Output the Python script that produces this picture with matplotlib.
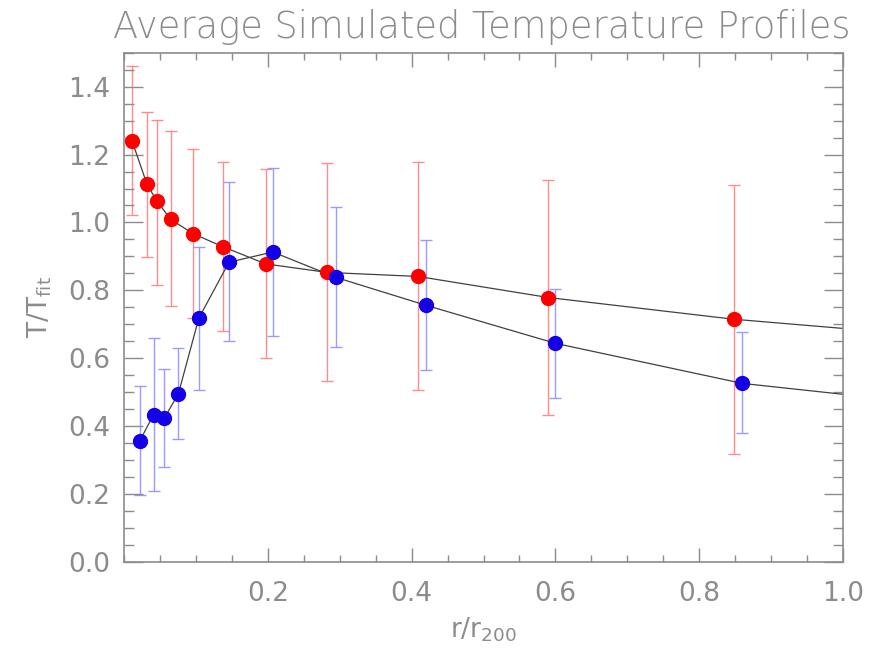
import matplotlib
matplotlib.use("Agg")
from matplotlib import pyplot as plt
from matplotlib.ticker import MultipleLocator

# red profile (points + error bar limits)
red_x = [0.011, 0.032, 0.046, 0.065, 0.096, 0.137, 0.197, 0.282, 0.409, 0.590, 0.848]
red_y = [1.241, 1.112, 1.062, 1.009, 0.967, 0.929, 0.878, 0.853, 0.841, 0.779, 0.715]
red_hi = [1.460, 1.325, 1.303, 1.269, 1.216, 1.177, 1.158, 1.176, 1.179, 1.126, 1.111]
red_lo = [1.021, 0.898, 0.815, 0.754, 0.718, 0.680, 0.601, 0.532, 0.506, 0.432, 0.318]

# blue profile
blue_x = [0.022, 0.041, 0.056, 0.0755, 0.104, 0.146, 0.207, 0.295, 0.420, 0.600, 0.860]
blue_y = [0.357, 0.434, 0.424, 0.495, 0.718, 0.883, 0.913, 0.838, 0.756, 0.644, 0.526]
blue_hi = [0.519, 0.660, 0.569, 0.629, 0.927, 1.118, 1.160, 1.047, 0.947, 0.803, 0.676]
blue_lo = [0.197, 0.209, 0.279, 0.363, 0.508, 0.651, 0.667, 0.632, 0.565, 0.482, 0.379]

# where the connecting lines leave the plot at r/r200 = 1
red_end = (1.0, 0.688)
blue_end = (1.0, 0.494)

grey = "#8c8c8c"
plt.rcParams['font.family'] = ['DejaVu Sans']

fig = plt.figure(figsize=(8.71, 6.52), dpi=100)
ax = fig.add_axes([0.1424, 0.138, 0.8255, 0.7812])


def draw_profile(x, y, lo, hi, end, c_err, c_pt):
    yerr = [[v - l for v, l in zip(y, lo)], [h - v for v, h in zip(y, hi)]]
    ax.errorbar(x, y, yerr=yerr, fmt="none", ecolor=c_err, elinewidth=1.0,
                capsize=4, capthick=1.0, zorder=1)
    ax.plot(x + [end[0]], y + [end[1]], color="#404040", lw=0.9, zorder=2)
    ax.plot(x, y, "o", color=c_pt, ms=10, mec=c_pt, zorder=3)


draw_profile(red_x, red_y, red_lo, red_hi, red_end, "#ff8c8c", "#ff0000")
draw_profile(blue_x, blue_y, blue_lo, blue_hi, blue_end, "#9a9aff", "#1400e6")

ax.set_xlim(0, 1.0)
ax.set_ylim(0, 1.5)
ax.xaxis.set_major_locator(MultipleLocator(0.2))
ax.xaxis.set_minor_locator(MultipleLocator(0.05))
ax.yaxis.set_major_locator(MultipleLocator(0.2))
ax.yaxis.set_minor_locator(MultipleLocator(0.05))
ax.set_xticks([0.2, 0.4, 0.6, 0.8, 1.0])
ax.set_xticklabels(["0.2", "0.4", "0.6", "0.8", "1.0"])

ax.tick_params(which="both", direction="in", top=True, right=True, colors=grey,
               width=1.0, labelsize=19, labelcolor=grey)
ax.tick_params(axis="y", which="major", length=14, pad=10)
ax.tick_params(axis="y", which="minor", length=7)
ax.tick_params(axis="x", which="major", length=10, pad=14)
ax.tick_params(axis="x", which="minor", length=5)
for s in ax.spines.values():
    s.set_color(grey)
    s.set_linewidth(1.2)

ax.set_xlabel("r/r$_{200}$", fontsize=19, color=grey, labelpad=6)
ax.set_ylabel("T/T$_{\\rm fit}$", fontsize=19, color=grey, labelpad=10)
fig.text(0.553, 0.942, "Average Simulated Temperature Profiles", fontsize=26.5,
         color=grey, fontweight="light", ha="center", va="baseline")

plt.savefig("out.png", dpi=100)
